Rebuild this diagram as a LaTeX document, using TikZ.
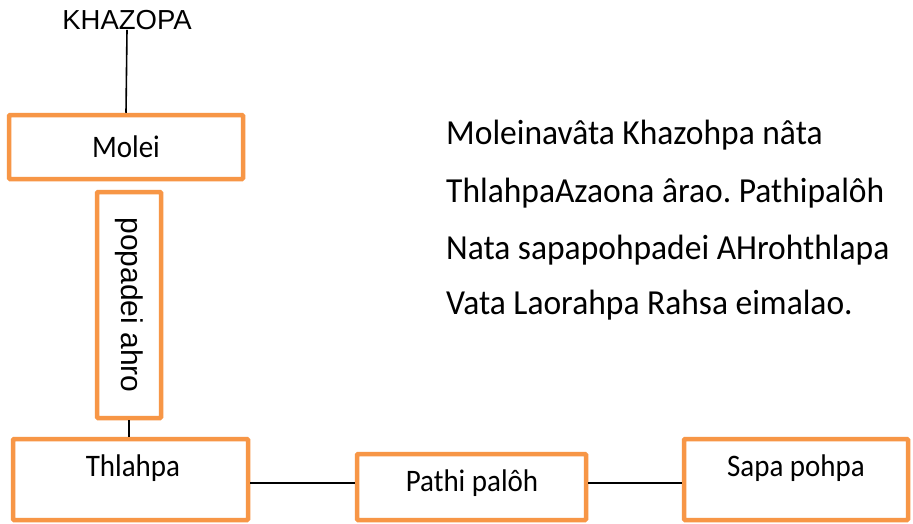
\documentclass[tikz,border=0pt]{standalone}
\usepackage{fontspec}
\setmainfont{Carlito}
\newfontfamily\arialfont{Liberation Sans}
\definecolor{boxorange}{RGB}{247,150,70}
\frenchspacing

\tikzset{   orbox/.style={draw=boxorange,line width=4.5pt,rectangle,rounded corners=1pt,inner sep=0pt,fill=white},
            boxtext/.style={font=\fontsize{29}{35}\selectfont,inner sep=0pt,yscale=1.08,transform shape},
            paratext/.style={font=\fontsize{33.5}{40}\selectfont,anchor=west,inner sep=0pt,yscale=1.05,transform shape},
            conn/.style={draw=black,line width=1.6pt},
}

\begin{document}
\begin{tikzpicture}[x=1pt,y=-1pt]
    \useasboundingbox[fill=white] (0,0) rectangle (913,523); % page size

    \node[font=\arialfont\fontsize{27.5}{32}\selectfont,inner sep=0pt] (khazopa) at (127,20) {KHAZOPA}; % top label

    \node[orbox,minimum width=234pt,minimum height=64pt] (molei) at (126,147) {};   % boxes
    \node[orbox,minimum width=64pt,minimum height=226pt] (popadei) at (129,305) {};
    \node[orbox,minimum width=235pt,minimum height=81pt] (thlahpa) at (130.5,479.5) {};
    \node[orbox,minimum width=229pt,minimum height=66pt] (pathi) at (471.5,487) {};
    \node[orbox,minimum width=224pt,minimum height=81pt] (sapa) at (796,479.5) {};

    \node[boxtext] (moleitext) at (126,147) {Molei};   % box texts
    \node[font=\arialfont\fontsize{30}{36}\selectfont,inner sep=0pt,rotate=-90] (popadeitext) at (129,305) {popadei ahro};
    \node[boxtext] (thlahpatext) at (133,468) {Thlahpa};
    \node[boxtext] (pathitext) at (472,483) {Pathi palôh};
    \node[boxtext] (sapatext) at (796,468) {Sapa pohpa};

    \draw[conn] (khazopa.south) -- (molei.north);   % connectors
    \draw[conn] (popadei.south) -- (thlahpa.north -| popadei.south);
    \draw[conn] (thlahpa.east |- pathitext.center) -- (pathi.west |- pathitext.center);
    \draw[conn] (pathi.east |- pathitext.center) -- (sapa.west |- pathitext.center);

    \node[paratext] (line1) at (446,135) {Moleinavâta Khazohpa nâta};   % notes on the right
    \node[paratext] (line2) at (446,193) {ThlahpaAzaona ârao. Pathipalôh};
    \node[paratext] (line3) at (446,250) {Nata sapapohpadei AHrohthlapa};
    \node[paratext] (line4) at (446,305) {Vata Laorahpa Rahsa eimalao.};
\end{tikzpicture}
\end{document}
